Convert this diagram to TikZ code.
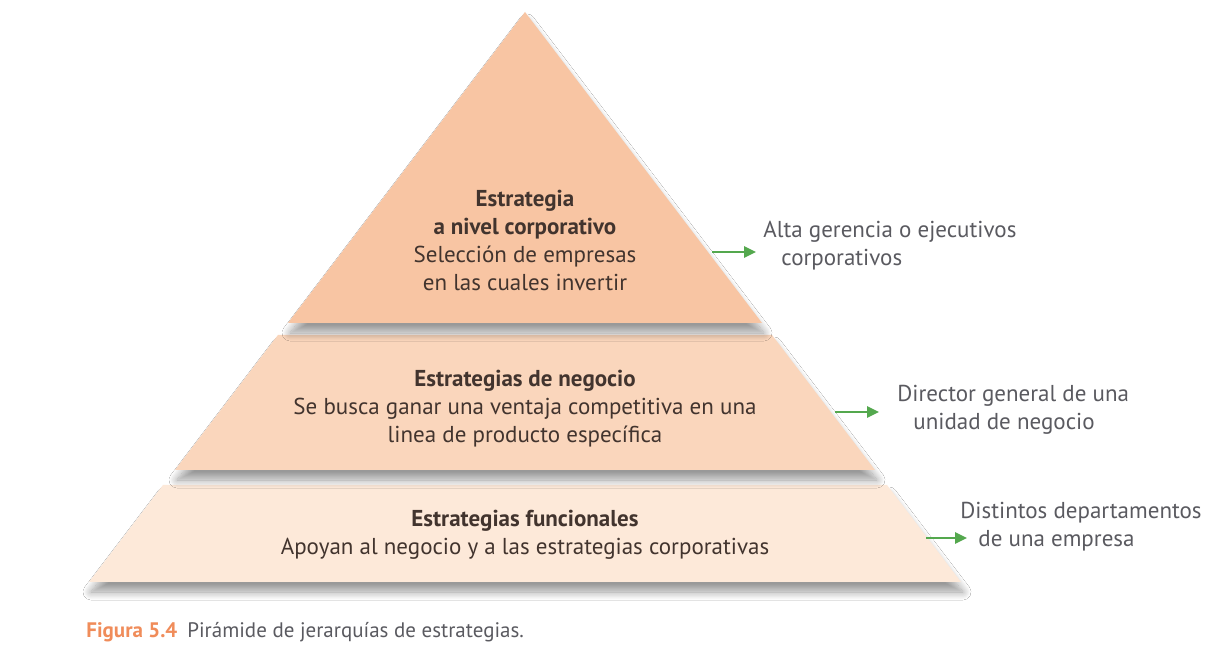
\documentclass[tikz,border=0pt]{standalone}
\usepackage{fontspec}
\setmainfont{PT Sans}
\usetikzlibrary{arrows.meta,shadows.blur}
\definecolor{cTop}{RGB}{248,197,163}
\definecolor{cMid}{RGB}{250,214,188}
\definecolor{cLow}{RGB}{253,233,217}
\definecolor{cText}{RGB}{66,52,46}
\definecolor{cGray}{RGB}{90,90,96}
\definecolor{cGreen}{RGB}{84,168,78}
\definecolor{cOrange}{RGB}{240,140,90}

\tikzset{
  layer/.style={draw=none,blur shadow={shadow xshift=1pt,shadow yshift=-5pt,shadow opacity=40,shadow blur steps=14,shadow blur radius=4pt}},
  txt/.style={text=cText,font=\fontsize{11.5}{14}\selectfont,align=center,inner sep=0pt},
  who/.style={text=cGray,font=\fontsize{11.5}{14}\selectfont,align=left,anchor=west,inner sep=0pt},
  arr/.style={cGreen,line width=1.3pt,-{Triangle[length=6pt,width=5.5pt]}}
}

\begin{document}
\begin{tikzpicture}[x=0.5pt,y=-0.5pt]
        \useasboundingbox (0,0) rectangle (1206,657);
        \fill[white] (0,0) rectangle (1206,657);

        % layers of the pyramid
        \draw[layer,fill=cLow] (163,485) -- (887,485) -- (961,582) -- (89,582) -- cycle;
        \draw[layer,fill=cMid] (278,335) -- (772,335) -- (875,470) -- (175,470) -- cycle;
        \draw[layer,fill=cTop] (525,12) -- (762,323) -- (288,323) -- cycle;

        % texts inside
        \node[txt] (corp) at (525,240) {\textbf{Estrategia}\\ \textbf{a nivel corporativo}\\ Selección de empresas\\ en las cuales invertir};
        \node[txt] (neg) at (525,409) {\textbf{Estrategias de negocio}\\ Se busca ganar una ventaja competitiva en una\\ linea de producto específica};
        \node[txt] (func) at (525,535) {\textbf{Estrategias funcionales}\\ Apoyan al negocio y a las estrategias corporativas};

        % who is in charge
        \node[who] (alta) at (763,246) {Alta gerencia o ejecutivos\\ \hspace*{9pt}corporativos};
        \node[who] (dir) at (897,410) {Director general de una\\ \hspace*{8pt}unidad de negocio};
        \node[who] (dist) at (960,527) {Distintos departamentos\\ \hspace*{9pt}de una empresa};

        \coordinate (a1) at (712,252);
        \coordinate (b1) at (756,252);
        \coordinate (a2) at (835,412);
        \coordinate (b2) at (879,412);
        \coordinate (a3) at (926,538);
        \coordinate (b3) at (967,538);
        \draw[arr] (a1) -- (b1);
        \draw[arr] (a2) -- (b2);
        \draw[arr] (a3) -- (b3);

        % caption
        \node[anchor=west,inner sep=0pt,font=\fontsize{10.5}{12}\selectfont] (cap) at (86,632) {\textcolor{cOrange}{\textbf{Figura 5.4}}\hspace{5pt}\textcolor{cGray}{Pirámide de jerarquías de estrategias.}};
\end{tikzpicture}
\end{document}
